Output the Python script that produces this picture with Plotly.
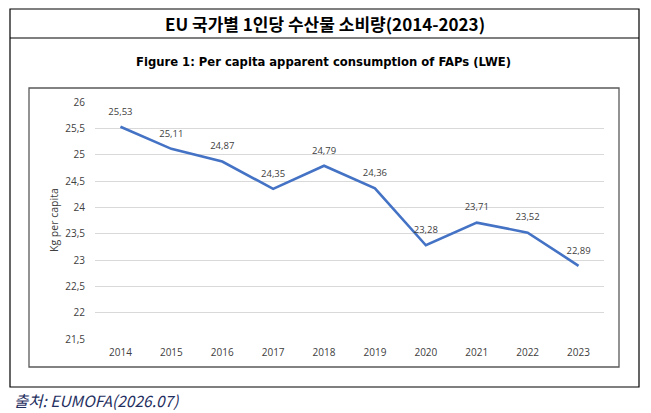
import plotly.graph_objects as go

years = ["2014", "2015", "2016", "2017", "2018", "2019", "2020", "2021", "2022", "2023"]
consumption = [25.53, 25.11, 24.87, 24.35, 24.79, 24.36, 23.28, 23.71, 23.52, 22.89]
labels = [f"{v:.2f}".replace(".", ",") for v in consumption]
y_ticks = [21.5, 22, 22.5, 23, 23.5, 24, 24.5, 25, 25.5, 26]
y_tick_text = [f"{t:g}".replace(".", ",") for t in y_ticks]

W, H = 651, 413
L, R, T, B = 95, 604, 102, 339  # plot area in pixels

def px(x):
    return (x - L) / (R - L)

def py(y):
    return (B - y) / (B - T)

fig = go.Figure()
fig.add_trace(go.Scatter(
    x=years, y=consumption, mode="lines+markers+text",
    line=dict(color="#4472C4", width=2.6),
    marker=dict(size=14, color="rgba(0,0,0,0)"),
    text=labels, textposition="top center",
    textfont=dict(family="Open Sans, DejaVu Sans, sans-serif", size=9.5, color="#404040"),
    hoverinfo="skip", cliponaxis=False,
))

fig.update_layout(
    width=W, height=H,
    margin=dict(l=L, r=W - R, t=T, b=H - B),
    paper_bgcolor="white", plot_bgcolor="white",
    showlegend=False,
    xaxis=dict(type="category", range=[-0.5, 9.5], showgrid=False, showline=False,
               ticks="", ticklabelstandoff=6,
               tickfont=dict(family="Open Sans, DejaVu Sans, sans-serif", size=10, color="#404040"),
               zeroline=False),
    yaxis=dict(range=[21.5, 26], tickvals=y_ticks, ticktext=y_tick_text,
               showgrid=True, gridcolor="#D9D9D9", gridwidth=1,
               showline=False, zeroline=False, ticks="", ticklabelstandoff=9,
               tickfont=dict(family="Open Sans, DejaVu Sans, sans-serif", size=10, color="#404040")),
)

shapes = []
# outer box
shapes.append(dict(type="rect", xref="paper", yref="paper",
                   x0=px(10), x1=px(639), y0=py(387), y1=py(9),
                   line=dict(color="#000000", width=1.2), layer="below"))
# header divider
shapes.append(dict(type="line", xref="paper", yref="paper",
                   x0=px(10), x1=px(639), y0=py(38), y1=py(38),
                   line=dict(color="#000000", width=1.2)))
# inner chart box
shapes.append(dict(type="rect", xref="paper", yref="paper",
                   x0=px(29), x1=px(619), y0=py(367), y1=py(88),
                   line=dict(color="#595959", width=1.3), layer="below"))
fig.update_layout(shapes=shapes)

ann = [
    dict(text="<b>EU 국가별 1인당 수산물 소비량(2014-2023)</b>", x=px(325), y=py(23),
         font=dict(family="Noto Sans CJK KR, sans-serif", size=17, color="#000000")),
    dict(text="<b>Figure 1: Per capita apparent consumption of FAPs (LWE)</b>", x=px(323), y=py(62),
         font=dict(family="DejaVu Sans, sans-serif", size=11.6, color="#000000")),
    dict(text="Kg per capita", x=px(54), y=py(220), textangle=-90,
         font=dict(family="Open Sans, DejaVu Sans, sans-serif", size=10.5, color="#404040")),
    dict(text="<i>출처: EUMOFA(2026.07)</i>", x=px(12), y=py(400), xanchor="left",
         font=dict(family="Noto Sans CJK KR, sans-serif", size=15.5, color="#1F2F5F")),
]
for a in ann:
    a.setdefault("xanchor", "center")
    a.update(xref="paper", yref="paper", yanchor="middle", showarrow=False)
fig.update_layout(annotations=ann)

fig.write_html("out.html", config={"displayModeBar": False},
               post_script="document.body.style.margin='0';document.body.style.overflow='hidden';")
